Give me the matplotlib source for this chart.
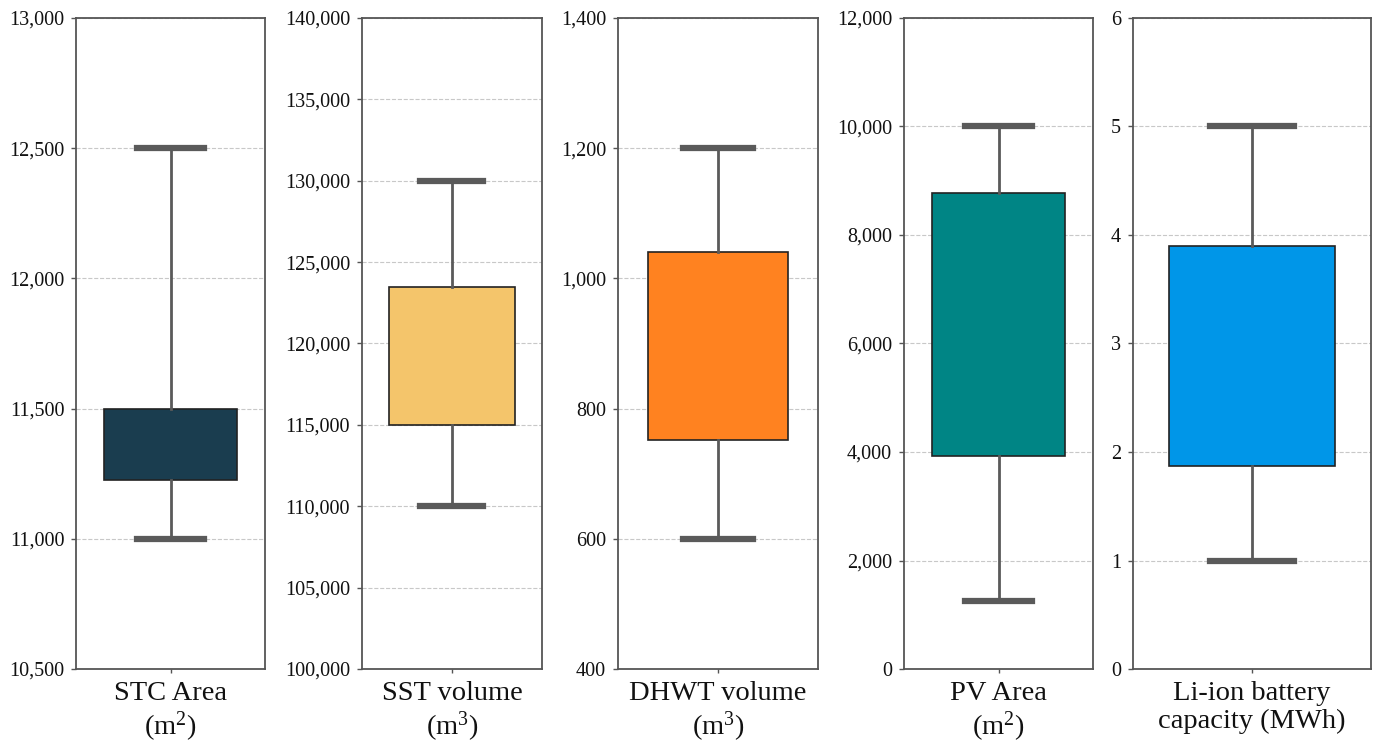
import matplotlib
matplotlib.use("Agg")
import matplotlib.pyplot as plt
from matplotlib.ticker import FuncFormatter

plt.rcParams["font.family"] = ["Liberation Serif", "DejaVu Serif"]
plt.rcParams["mathtext.fontset"] = "custom"
plt.rcParams["mathtext.rm"] = "Liberation Serif"
plt.rcParams["mathtext.it"] = "Liberation Serif:italic"

# Sizing results for each component (five-number summaries)
labels = ["STC Area\n(m$^2$)", "SST volume\n(m$^3$)", "DHWT volume\n(m$^3$)",
          "PV Area\n(m$^2$)", "Li-ion battery\ncapacity (MWh)"]
whisker_lo = [11000, 110000, 600, 1250, 1.0]
q1 = [11225, 115000, 752, 3935, 1.875]
q3 = [11500, 123500, 1040, 8775, 3.9]
whisker_hi = [12500, 130000, 1200, 10000, 5.0]
colors = ["#1a3d4f", "#f4c56b", "#ff8220", "#008585", "#0096e8"]
y_limits = [(10500, 13000), (100000, 140000), (400, 1400), (0, 12000), (0, 6)]
y_steps = [500, 5000, 200, 2000, 1]

# axes placement [left, bottom, width, height] in figure fractions
bottom, height = 0.1032, 0.8727
lefts = [0.0551, 0.2623, 0.4478, 0.6551, 0.8210]
widths = [0.1370, 0.1304, 0.1449, 0.1370, 0.1725]

fig = plt.figure(figsize=(13.8, 7.46), dpi=100)

for i in range(len(labels)):
    ax = fig.add_axes([lefts[i], bottom, widths[i], height])
    stats = [{
        "whislo": whisker_lo[i], "q1": q1[i], "med": q1[i],
        "q3": q3[i], "whishi": whisker_hi[i], "fliers": [],
    }]
    ax.bxp(
        stats, positions=[1], widths=0.7, patch_artist=True,
        boxprops=dict(facecolor=colors[i], edgecolor="#222222", linewidth=1.2),
        whiskerprops=dict(color="#5a5a5a", linewidth=2),
        capprops=dict(color="#5a5a5a", linewidth=4.5),
        medianprops=dict(visible=False),
        showfliers=False,
    )
    lo, hi = y_limits[i]
    ax.set_ylim(lo, hi)
    ax.set_xlim(0.5, 1.5)
    step = y_steps[i]
    ticks = [lo + k * step for k in range(int(round((hi - lo) / step)) + 1)]
    ax.set_yticks(ticks)
    ax.yaxis.set_major_formatter(FuncFormatter(lambda v, p: f"{v:,.0f}"))
    ax.set_xticks([1])
    ax.set_xticklabels([labels[i]], fontsize=20.5, linespacing=1.15)
    ax.tick_params(axis="y", labelsize=14.5, length=3.5, width=1, pad=5,
                   color="#555555", labelcolor="#111111")
    ax.tick_params(axis="x", length=3, width=1, pad=5.5,
                   color="#555555", labelcolor="#111111")
    ax.grid(axis="y", linestyle="--", color="#c8c8c8", linewidth=0.8)
    ax.set_axisbelow(True)
    for sp in ax.spines.values():
        sp.set_color("#555555")
        sp.set_linewidth(1.3)

fig.savefig("out.png", dpi=100)
